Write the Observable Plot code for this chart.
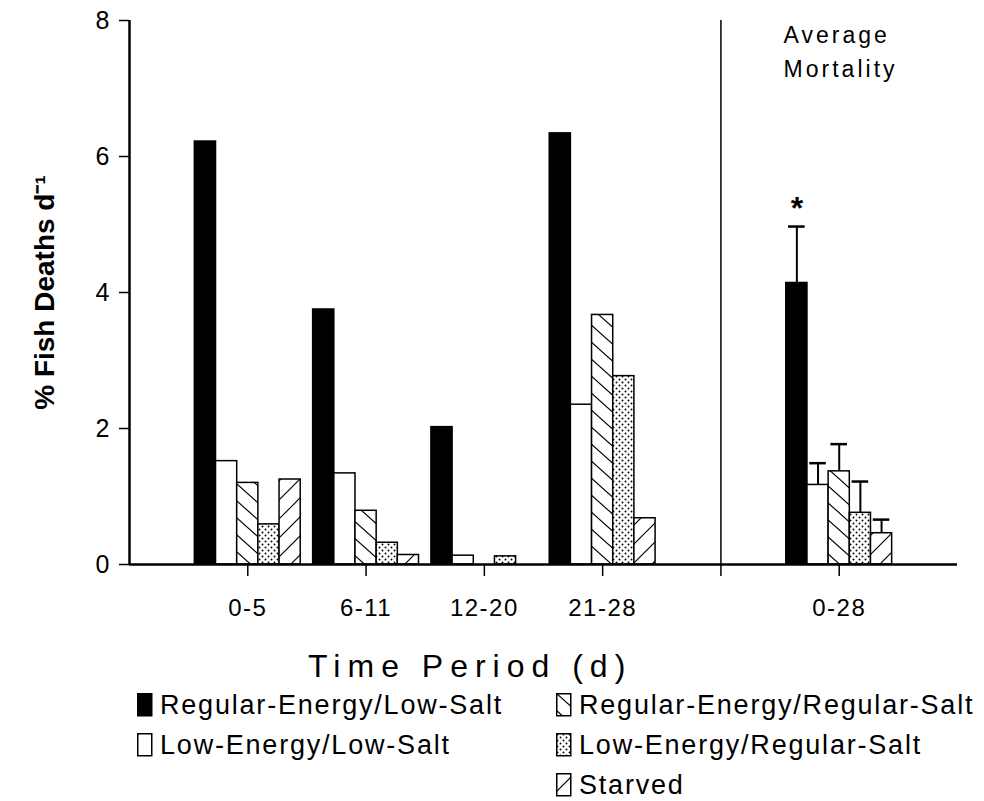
<!DOCTYPE html>
<html>
<head>
<meta charset="utf-8">
<script src="https://cdn.jsdelivr.net/npm/d3@7"></script>
<script src="https://cdn.jsdelivr.net/npm/@observablehq/plot@0.6"></script>
<style>
  body { margin: 0; background: #fff; font-family: "Liberation Sans", Arial, sans-serif; color: #000; }
  #wrap { position: relative; width: 984px; }
  #legend { position: relative; width: 984px; height: 116px; }
  .item { position: absolute; height: 30px; display: flex; align-items: center; font-size: 27px; letter-spacing: 1.8px; white-space: nowrap; }
  .item svg { margin-right: 7px; flex: none; }
</style>
</head>
<body>
<svg width="0" height="0" style="position:absolute">
  <defs>
    <pattern id="hatchBack" patternUnits="userSpaceOnUse" width="19" height="17">
      <rect width="19" height="17" fill="#fff"/>
      <path d="M-19,-17L38,34M-19,0L19,34M0,-17L38,17" stroke="#000" stroke-width="1.2"/>
    </pattern>
    <pattern id="hatchFwd" patternUnits="userSpaceOnUse" width="19" height="19">
      <rect width="19" height="19" fill="#fff"/>
      <path d="M-19,38L38,-19M-19,19L19,-19M0,38L38,0" stroke="#000" stroke-width="1.2"/>
    </pattern>
    <pattern id="dots" patternUnits="userSpaceOnUse" width="6" height="6">
      <rect width="6" height="6" fill="#fff"/>
      <circle cx="1.5" cy="1.5" r="0.95" fill="#000"/>
      <circle cx="4.5" cy="4.5" r="0.95" fill="#000"/>
    </pattern>
  </defs>
</svg>
<div id="wrap"><div id="chart"></div><div id="legend"></div></div>
<script>
// ---- data ----
const periods = ["0-5", "6-11", "12-20", "21-28"];
const averageLabel = "0-28";
const treatments = [
  "Regular-Energy/Low-Salt",
  "Low-Energy/Low-Salt",
  "Regular-Energy/Regular-Salt",
  "Low-Energy/Regular-Salt",
  "Starved"
];
const regEnergyLowSalt = [6.22, 3.75, 2.02, 6.34];
const lowEnergyLowSalt = [1.52, 1.34, 0.13, 2.35];
const regEnergyRegSalt = [1.20, 0.79, 0.00, 3.67];
const lowEnergyRegSalt = [0.59, 0.32, 0.12, 2.77];
const starvedValues    = [1.25, 0.14, 0.00, 0.68];
const averageMortality = [4.14, 1.17, 1.37, 0.76, 0.46];
const averageError     = [0.83, 0.32, 0.40, 0.46, 0.20];
const yTicks = [0, 2, 4, 6, 8];
const yLabel = "% Fish Deaths d\u207B\u00B9";
const xLabel = "Time Period (d)";
const averageTitle = "Average\nMortality";
const significanceMark = "*";

// ---- derived table ----
const seriesValues = [regEnergyLowSalt, lowEnergyLowSalt, regEnergyRegSalt, lowEnergyRegSalt, starvedValues];
const fills = ["#000", "#fff", "url(#hatchBack)", "url(#dots)", "url(#hatchFwd)"];
const groups = [...periods, averageLabel];
const slot = (gi) => (gi < periods.length ? gi + 1 : gi + 2); // slot 5 holds the divider
const barW = 0.179;
const rows = [];
groups.forEach((g, gi) => {
  treatments.forEach((t, si) => {
    const isAvg = gi === periods.length;
    const value = isAvg ? averageMortality[si] : seriesValues[si][gi];
    const x1 = slot(gi) - 2.5 * barW + si * barW;
    rows.push({group: g, treatment: t, si, value, x1, x2: x1 + barW, xc: x1 + barW / 2,
               upper: isAvg ? averageMortality[si] + averageError[si] : null});
  });
});
const avgRows = rows.filter(r => r.upper != null);
const groupTicks = groups.map((g, gi) => ({label: g, pos: slot(gi)}));
const xTicks = [...groupTicks.map(d => d.pos), periods.length + 1].sort((a, b) => a - b);

const chart = Plot.plot({
  width: 984,
  height: 685,
  marginLeft: 129,
  marginRight: 27,
  marginTop: 20,
  marginBottom: 121,
  style: {fontFamily: "Liberation Sans, Arial, sans-serif", fontSize: "20px", color: "#000", background: "#fff", overflow: "visible"},
  x: {domain: [0, 7], axis: null},
  y: {domain: [0, 8], axis: null},
  marks: [
    ...treatments.map((t, si) =>
      Plot.rectY(rows.filter(r => r.si === si && r.value > 0), {
        x1: "x1", x2: "x2", y1: 0, y2: "value",
        fill: fills[si], stroke: "#000", strokeWidth: 1.5
      })
    ),
    Plot.ruleX(avgRows, {x: "xc", y1: "value", y2: "upper", stroke: "#000", strokeWidth: 2}),
    Plot.ruleY(avgRows, {x1: d => d.xc - 0.07, x2: d => d.xc + 0.07, y: "upper", stroke: "#000", strokeWidth: 2.5}),
    Plot.text([significanceMark], {x: avgRows[0].xc, y: avgRows[0].upper, dy: -8, lineAnchor: "bottom", fontSize: 32, fontWeight: "bold"}),
    Plot.ruleX([periods.length + 1], {y1: 0, y2: 8, stroke: "#000", strokeWidth: 1.5}),
    Plot.ruleX([0], {stroke: "#000", strokeWidth: 2.5}),
    Plot.ruleY([0], {stroke: "#000", strokeWidth: 2.5}),
    Plot.axisY({ticks: yTicks, tickSize: 10, tickFormat: () => "", label: null, strokeWidth: 1.5}),
    Plot.axisX({ticks: xTicks, tickSize: 12, tickFormat: () => "", label: null, strokeWidth: 1.5}),
    Plot.text(yTicks, {x: 0, y: d => d, text: d => String(d), dx: -20, textAnchor: "end", lineAnchor: "middle", fontSize: 25}),
    Plot.text(groupTicks, {x: "pos", y: 0, text: "label", dy: 34, textAnchor: "middle", lineAnchor: "top", fontSize: 24}),
    Plot.text([yLabel], {frameAnchor: "left", dx: -84, rotate: -90, textAnchor: "middle", lineAnchor: "middle", fontSize: 28, fontWeight: "bold"}),
    Plot.text([xLabel], {x: 2.88, frameAnchor: "bottom", dy: 112, lineAnchor: "bottom", textAnchor: "middle", fontSize: 32}),
    Plot.text([averageTitle], {x: periods.length + 1.53, frameAnchor: "top", dy: -2, lineAnchor: "top", textAnchor: "start", lineHeight: 1.5, fontSize: 23})
  ]
});
document.getElementById("chart").appendChild(chart);

// typographic touches applied to the rendered text
d3.select(chart).selectAll("text").each(function () {
  const s = this.textContent;
  const sel = d3.select(this);
  if (groups.includes(s)) sel.style("letter-spacing", "1.5px");
  else if (s === xLabel) sel.style("letter-spacing", "7px");
  else if (s.startsWith("Average")) sel.style("letter-spacing", "3px");
});

// ---- legend ----
const legendPos = [
  {left: 137, row: 0}, {left: 137, row: 1},
  {left: 556, row: 0}, {left: 556, row: 1}, {left: 556, row: 2}
];
const legend = document.getElementById("legend");
treatments.forEach((t, si) => {
  const p = legendPos[si];
  const div = document.createElement("div");
  div.className = "item";
  div.style.left = p.left + "px";
  div.style.top = (5 + p.row * 40) + "px";
  div.innerHTML = `<svg width="16" height="24"><rect x="0.75" y="0.75" width="14" height="22" fill="${fills[si]}" stroke="#000" stroke-width="1.5"/></svg><span>${t}</span>`;
  legend.appendChild(div);
});
</script>
</body>
</html>
